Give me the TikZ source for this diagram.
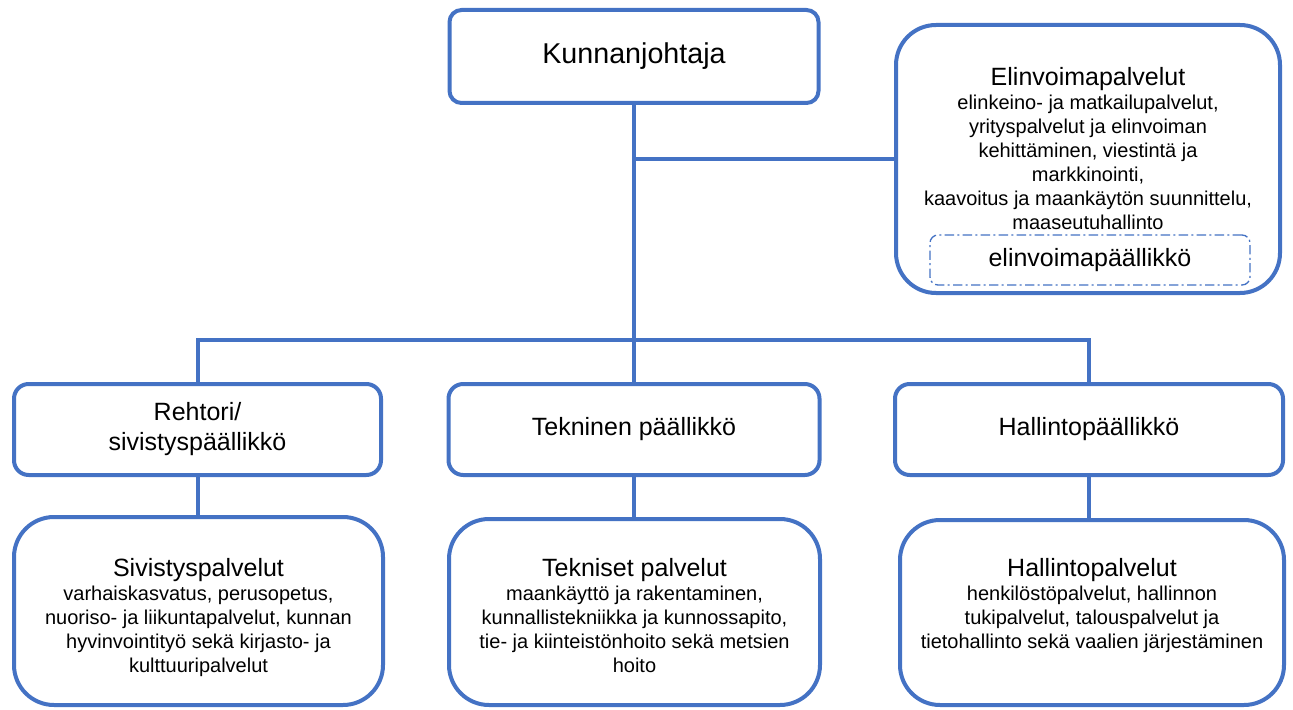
\documentclass[tikz,border=0pt]{standalone}
\usepackage{fontspec}
\setmainfont{Liberation Sans}
\usepackage{xcolor}
\definecolor{orgblue}{HTML}{4472C4}

\newcommand{\bigtxt}{\fontsize{21.5}{25.8}\selectfont}
\newcommand{\medtxt}{\fontsize{18.75}{22.5}\selectfont}
\newcommand{\smalltxt}{\fontsize{15}{18}\selectfont}

\begin{document}
\begin{tikzpicture}[x=0.75pt, y=-0.75pt,
  box/.style={draw=orgblue, line width=3pt, fill=white, inner sep=0pt, align=center},
  headbox/.style={box, rounded corners=9pt, font=\bigtxt},
  midbox/.style={box, rounded corners=11pt, minimum height=68.25pt, font=\medtxt},
  bigbox/.style={box, rounded corners=30pt},
  bodytxt/.style={anchor=north, inner sep=0pt, align=center, font=\smalltxt},
  chiefbox/.style={draw=orgblue, line width=1pt, rounded corners=6pt,
    dash pattern=on 7pt off 2.5pt on 1.5pt off 2.5pt, inner sep=0pt, font=\medtxt},
  conn/.style={draw=orgblue, line width=3pt}
]
  % Fix the page size
  \useasboundingbox (0,0) rectangle (1293,710);

  % Top boxes
  \node[headbox, minimum width=276.75pt, minimum height=69.75pt] (kunta) at (634,56.5) {Kunnanjohtaja};
  \node[bigbox, minimum width=288pt, minimum height=201pt] (elin) at (1088,159) {};
  \node[bodytxt] (elintxt) at (1088,67)
    {{\medtxt Elinvoimapalvelut}\\elinkeino- ja matkailupalvelut,\\yrityspalvelut ja elinvoiman\\kehittäminen, viestintä ja\\markkinointi,\\kaavoitus ja maankäytön suunnittelu,\\maaseutuhallinto};
  \node[chiefbox, minimum width=240pt, minimum height=37.5pt] (elinpaal) at (1090,260) {elinvoimapäällikkö};

  % Middle row
  \node[midbox, minimum width=275.25pt] (rehtori) at (197.5,429.5) {Rehtori/\\sivistyspäällikkö};
  \node[midbox, minimum width=278.25pt] (teknpaal) at (634,429.5) {Tekninen päällikkö};
  \node[midbox, minimum width=291pt] (hallpaal) at (1089,429.5) {Hallintopäällikkö};

  % Bottom row
  \node[bigbox, minimum width=276.75pt, minimum height=141pt] (sivpalv) at (198.5,611) {};
  \node[bigbox, minimum width=278.25pt, minimum height=139.5pt] (tekpalv) at (634.5,612) {};
  \node[bigbox, minimum width=288pt, minimum height=138.75pt] (hallpalv) at (1092,612.5) {};
  \node[bodytxt] (sivtxt) at (sivpalv.north |- 0,558)
    {{\medtxt Sivistyspalvelut}\\varhaiskasvatus, perusopetus,\\nuoriso- ja liikuntapalvelut, kunnan\\hyvinvointityö sekä kirjasto- ja\\kulttuuripalvelut};
  \node[bodytxt] (tektxt) at (tekpalv.north |- 0,558)
    {{\medtxt Tekniset palvelut}\\maankäyttö ja rakentaminen,\\kunnallistekniikka ja kunnossapito,\\tie- ja kiinteistönhoito sekä metsien\\hoito};
  \node[bodytxt] (halltxt) at (hallpalv.north |- 0,558)
    {{\medtxt Hallintopalvelut}\\henkilöstöpalvelut, hallinnon\\tukipalvelut, talouspalvelut ja\\tietohallinto sekä vaalien järjestäminen};

  % Connectors
  \coordinate (bus) at (kunta.south |- 0,340);
  \draw[conn] (kunta.south) -- (bus);
  \draw[conn] (kunta.south |- elin.west) -- (elin.west);
  \draw[conn] (rehtori.north) |- (hallpaal.north |- bus) -- (hallpaal.north);
  \draw[conn] (bus) -- (teknpaal.north);
  \draw[conn] (rehtori.south) -- (rehtori.south |- sivpalv.north);
  \draw[conn] (teknpaal.south) -- (teknpaal.south |- tekpalv.north);
  \draw[conn] (hallpaal.south) -- (hallpaal.south |- hallpalv.north);
\end{tikzpicture}
\end{document}
